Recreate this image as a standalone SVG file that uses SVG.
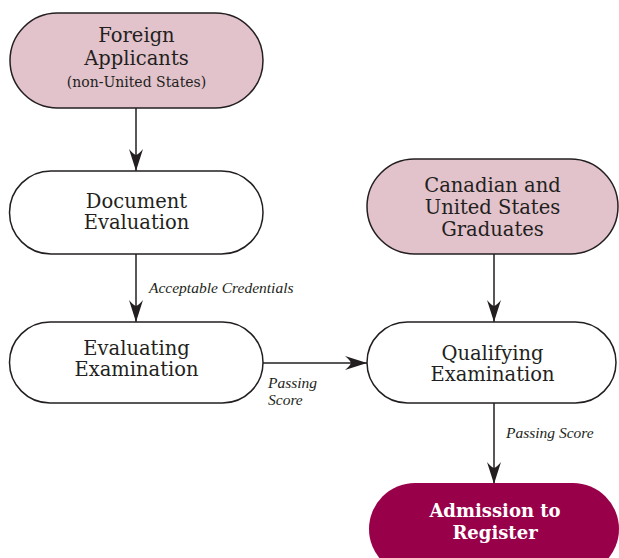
<svg xmlns="http://www.w3.org/2000/svg" width="619" height="558" viewBox="0 0 619 558">
  <defs>
    <style>
      .box { stroke: #231f20; stroke-width: 1.5; }
      .src { fill: #e2c2cb; }
      .step { fill: #ffffff; }
      .goal { fill: #98004a; stroke: none; }
      .t { font-family: "DejaVu Serif", serif; font-size: 19.5px; fill: #231f20; text-anchor: middle; }
      .small { font-size: 14px; }
      .goalt { font-family: "DejaVu Serif", serif; font-weight: bold; font-size: 18px; fill: #ffffff; text-anchor: middle; }
      .lbl { font-family: "Liberation Serif", serif; font-style: italic; font-size: 15.5px; fill: #231f20; }
      .edge { stroke: #231f20; stroke-width: 1.5; fill: none; marker-end: url(#head); }
    </style>
    <marker id="head" markerUnits="userSpaceOnUse" markerWidth="24" markerHeight="16" viewBox="-23 -8 24 16" refX="0" refY="0" orient="auto">
      <path d="M0,0 L-22,-7 Q-17,-3 -16,0 Q-17,3 -22,7 Z" fill="#231f20"/>
    </marker>
  </defs>

  <g id="connectors">
    <line class="edge" x1="136" y1="108" x2="136" y2="171"/>
    <line class="edge" x1="136" y1="254" x2="136" y2="322"/>
    <line class="edge" x1="263" y1="363" x2="367" y2="363"/>
    <line class="edge" x1="494" y1="254" x2="494" y2="322"/>
    <line class="edge" x1="494" y1="403" x2="494" y2="484"/>
    <text class="lbl" x="149" y="293">Acceptable Credentials</text>
    <text class="lbl" x="268" y="388">Passing</text>
    <text class="lbl" x="268" y="405">Score</text>
    <text class="lbl" x="506" y="438">Passing Score</text>
  </g>

  <g id="foreign">
    <rect class="box src" x="10" y="13" width="253" height="95" rx="47.5"/>
    <text class="t" x="136.5" y="42">Foreign</text>
    <text class="t" x="136.5" y="65">Applicants</text>
    <text class="t small" x="136.5" y="87">(non-United States)</text>
  </g>

  <g id="document">
    <rect class="box step" x="9.5" y="171" width="253.5" height="83" rx="41.5"/>
    <text class="t" x="136.5" y="208">Document</text>
    <text class="t" x="136.5" y="229">Evaluation</text>
  </g>

  <g id="evaluating">
    <rect class="box step" x="9.5" y="322" width="253.5" height="81" rx="40.5"/>
    <text class="t" x="136.5" y="355">Evaluating</text>
    <text class="t" x="136.5" y="376">Examination</text>
  </g>

  <g id="graduates">
    <rect class="box src" x="367" y="159" width="251" height="95" rx="47.5"/>
    <text class="t" x="492.5" y="192">Canadian and</text>
    <text class="t" x="492.5" y="214">United States</text>
    <text class="t" x="492.5" y="236">Graduates</text>
  </g>

  <g id="qualifying">
    <rect class="box step" x="367" y="322" width="249" height="81" rx="40.5"/>
    <text class="t" x="492.5" y="360">Qualifying</text>
    <text class="t" x="492.5" y="381">Examination</text>
  </g>

  <g id="admission">
    <rect class="goal" x="369" y="483" width="250" height="92" rx="46"/>
    <text class="goalt" x="495" y="517">Admission to</text>
    <text class="goalt" x="495" y="539">Register</text>
  </g>
</svg>
